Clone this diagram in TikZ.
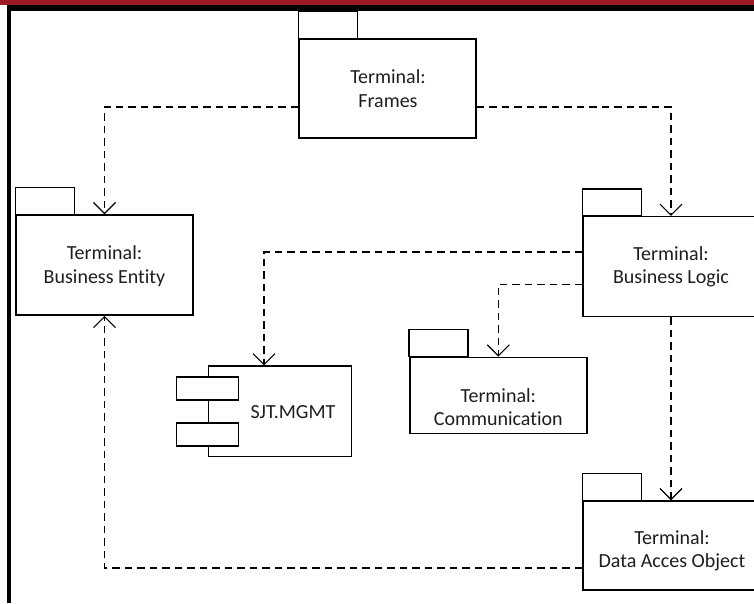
\documentclass[tikz,border=0pt]{standalone}
\usepackage{fontspec}
\setmainfont{Carlito}[Ligatures=NoCommon]
\usetikzlibrary{arrows.meta}
\definecolor{banner}{HTML}{9B1C22}
\definecolor{ink}{HTML}{1E1E1E}
\tikzset{
  pkgbody/.style={draw, line width=1.5pt, rectangle, inner sep=0pt, minimum width=177pt},
  pkgtab/.style={draw, line width=1.5pt},
  compbody/.style={draw, line width=1.1pt, rectangle, inner sep=0pt},
  comppart/.style={draw, fill=white, line width=1.1pt},
  txt/.style={font=\fontsize{20}{23.5}\selectfont, text=ink, align=center, inner sep=0pt},
  dep/.style={draw, line width=1.1pt, dash pattern=on 7.5pt off 5pt,
    -{Straight Barb[length=11pt,width=22pt]}}
}
\begin{document}
\begin{tikzpicture}[x=1pt, y=-1pt]
  \useasboundingbox (0,0) rectangle (754,603);
  \clip (0,0) rectangle (754,603);
  \fill[white] (0,0) rectangle (754,603);

  % page frame
  \fill[banner] (0,0) rectangle (754,5);
  \fill[black] (6.7,5) rectangle (754,10.5);
  \fill[black] (6.7,5) rectangle (10.5,603);

  % packages
  \node[pkgbody, minimum height=99pt] (frames) at (387.5,88.5) {};
  \draw[pkgtab] (frames.north west) rectangle ++(59,-27);
  \node[txt] (framesT) at (388,88.5) {Terminal:\\Frames};

  \node[pkgbody, minimum height=100pt] (be) at (104.5,265) {};
  \draw[pkgtab] (be.north west) rectangle ++(59,-27);
  \node[txt] (beT) at (104.5,266) {Terminal:\\Business Entity};

  \node[pkgbody, minimum width=176pt, minimum height=100pt] (bl) at (671,266.7) {};
  \draw[pkgtab] (bl.north west) rectangle ++(59,-27);
  \node[txt] (blT) at (671,267) {Terminal:\\Business Logic};

  \node[pkgbody, minimum height=76pt] (comm) at (498.3,395.3) {};
  \draw[pkgtab] (comm.north west) rectangle ++(59,-27);
  \node[txt] (commT) at (498.3,407) {Terminal:\\Communication};

  \node[pkgbody, minimum width=176pt, minimum height=89pt] (dao) at (671,545.5) {};
  \draw[pkgtab] (dao.north west) rectangle ++(59,-27);
  \node[txt] (daoT) at (672,551) {Terminal:\\Data Acces Object};

  % component
  \node[compbody, minimum width=143.4pt, minimum height=90.7pt] (sjt) at (280,411.3) {};
  \draw[comppart] ([shift={(-31.3,-34.3)}]sjt.west) rectangle ++(62,23);
  \draw[comppart] ([shift={(-31.3,11.7)}]sjt.west) rectangle ++(62,23);
  \node[txt] (sjtT) at (293,411.7) {SJT.MGMT};

  % dependencies
  \draw[dep] ([yshift=-18.5pt]frames.west) -| (be.north);
  \draw[dep] ([yshift=-18.5pt]frames.east) -| (bl.north);
  \draw[dep] ([yshift=14.7pt]bl.west) -| ([xshift=-16pt]sjt.north);
  \draw[dep] ([yshift=-17.5pt]bl.west) -| (comm.north);
  \draw[dep] (bl.south) -- (dao.north);
  \draw[dep] ([yshift=-22.5pt]dao.west) -| (be.south);
\end{tikzpicture}
\end{document}
